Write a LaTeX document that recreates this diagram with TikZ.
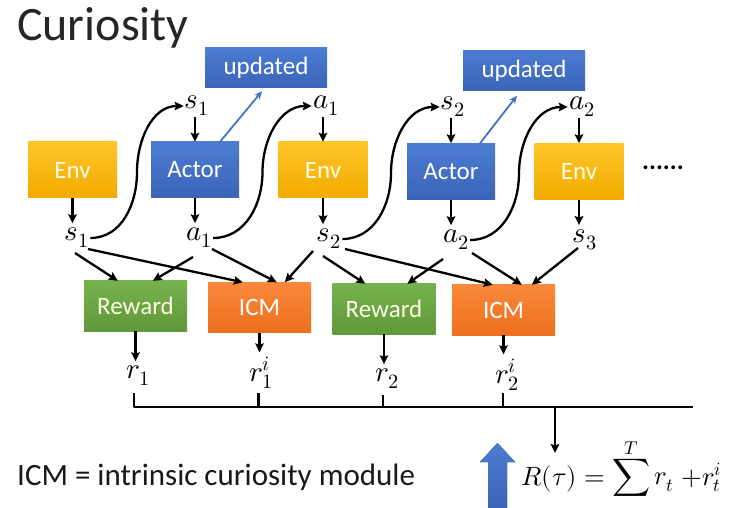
\documentclass[tikz,border=0pt]{standalone}
\usepackage{fontspec}
\usepackage{unicode-math}
\setmainfont{Carlito}
\setmathfont{Latin Modern Math}
\usetikzlibrary{arrows.meta,calc}
\definecolor{envtop}{RGB}{255,198,40}
\definecolor{envbot}{RGB}{242,170,0}
\definecolor{acttop}{RGB}{76,124,210}
\definecolor{actbot}{RGB}{58,100,184}
\definecolor{rewtop}{RGB}{118,178,76}
\definecolor{rewbot}{RGB}{96,152,58}
\definecolor{icmtop}{RGB}{250,136,58}
\definecolor{icmbot}{RGB}{236,112,30}
\definecolor{updblue}{RGB}{68,114,196}
\begin{document}
\begin{tikzpicture}[x=1pt,y=-1pt,
  basebox/.style={inner sep=0pt,text=white,font=\fontsize{25}{30}\selectfont},
  envbox/.style={basebox,minimum width=89pt,minimum height=56pt,top color=envtop,bottom color=envbot,text=white!90!yellow},
  actbox/.style={basebox,minimum width=88pt,minimum height=56pt,top color=acttop,bottom color=actbot},
  updbox/.style={basebox,minimum width=122pt,minimum height=40pt,top color=acttop,bottom color=actbot},
  rewbox/.style={basebox,minimum width=103pt,minimum height=50pt,top color=rewtop,bottom color=rewbot,text=white!90!yellow},
  icmbox/.style={basebox,minimum width=103pt,minimum height=50pt,top color=icmtop,bottom color=icmbot},
  lbl/.style={inner sep=1pt,font=\fontsize{29}{34}\selectfont},
  arr/.style={line width=2.3pt,-{Stealth[length=9pt,width=8.5pt,inset=1.5pt]}},
  tolbl/.style={arr,shorten >=3.5pt},
  barline/.style={line width=2.3pt},
  updarr/.style={updblue,line width=1.8pt,-{Stealth[length=8pt,width=7pt]}}
]
\useasboundingbox[fill=white] (0,0) rectangle (740,508);

% title and caption
\node[anchor=base west,inner sep=0pt,text=black!85,font=\fontsize{48}{56}\selectfont] (title) at (17,41) {Curiosity};
\node[anchor=base west,inner sep=0pt,text=black!90,font=\fontsize{31}{36}\selectfont] (caption) at (17,485) {ICM = intrinsic curiosity module};

% boxes
\node[envbox] (env1) at (72.5,170) {Env};
\node[actbox] (act1) at (195,170) {Actor};
\node[envbox] (env2) at (323,170) {Env};
\node[actbox] (act2) at (451,171.5) {Actor};
\node[envbox] (env3) at (579,171.5) {Env};
\node[updbox] (upd1) at (266,68) {updated};
\node[updbox] (upd2) at (524,70.5) {updated};
\node[rewbox] (rew1) at (135.5,306) {Reward};
\node[icmbox] (icm1) at (259.5,307.5) {ICM};
\node[rewbox] (rew2) at (384,309) {Reward};
\node[icmbox] (icm2) at (503.5,310) {ICM};
\node[inner sep=0pt,font=\bfseries\fontsize{26}{30}\selectfont] (dots) at (663,168) {......};

% labels, top row
\node[lbl] (s1t) at (197,106) {$s_1$};
\node[lbl] (a1t) at (326,106) {$a_1$};
\node[lbl] (s2t) at (453,107) {$s_2$};
\node[lbl] (a2t) at (582,107) {$a_2$};
% labels, bottom row
\node[lbl] (s1b) at (77,238) {$s_1$};
\node[lbl] (a1b) at (199,238) {$a_1$};
\node[lbl] (s2b) at (329,239) {$s_2$};
\node[lbl] (a2b) at (456,240) {$a_2$};
\node[lbl] (s3b) at (585,240) {$s_3$};
% rewards
\node[lbl] (r1) at (138,376) {$r_1$};
\node[lbl] (r1i) at (261,373) {$r_1^i$};
\node[lbl] (r2) at (387,379) {$r_2$};
\node[lbl] (r2i) at (507,375) {$r_2^i$};

% vertical arrows
\draw[arr] (act1.north |- s1t.south) -- (act1.north);
\draw[arr] (env2.north |- a1t.south) -- (env2.north);
\draw[arr] (act2.north |- s2t.south) -- (act2.north);
\draw[arr] (env3.north |- a2t.south) -- (env3.north);
\draw[tolbl] (env1.south) -- (env1.south |- s1b.north);
\draw[tolbl] (act1.south) -- (act1.south |- a1b.north);
\draw[tolbl] (env2.south) -- (env2.south |- s2b.north);
\draw[tolbl] (act2.south) -- (act2.south |- a2b.north);
\draw[tolbl] (env3.south) -- (env3.south |- s3b.north);
\draw[tolbl] (rew1.south) -- (rew1.south |- r1.north);
\draw[tolbl] (icm1.south) -- (icm1.south |- r1i.north);
\draw[tolbl] (rew2.south) -- (rew2.south |- r2.north);
\draw[tolbl] (icm2.south) -- (icm2.south |- r2i.north);

% S-curves
\draw[arr] (s1b.east) to[out=0,in=-90] ($(s1b.east)!.5!(s1t.west)$) to[out=90,in=180] (s1t.west);
\draw[arr] (a1b.east) to[out=0,in=-90] ($(a1b.east)!.5!(a1t.west)$) to[out=90,in=180] (a1t.west);
\draw[arr] (s2b.east) to[out=0,in=-90] ($(s2b.east)!.5!(s2t.west)$) to[out=90,in=180] (s2t.west);
\draw[arr] (a2b.east) to[out=0,in=-90] ($(a2b.east)!.5!(a2t.west)$) to[out=90,in=180] (a2t.west);

% update arrows
\draw[updarr] ($(act1.north)+(25,0)$) -- ($(upd1.south)+(-4,3)$);
\draw[updarr] ($(act2.north)+(29,0)$) -- ($(upd2.south)+(-7,5)$);

% diagonal arrows into Reward / ICM
\draw[arr] ($(s1b)+(-2,15)$) -- ($(rew1.north west)+(34,0)$);
\draw[arr] ($(s1b)+(11,11)$) -- ($(icm1.north west)+(35,0)$);
\draw[arr] ($(a1b)+(-6,19)$) -- ($(rew1.north west)+(69,0)$);
\draw[arr] ($(a1b)+(13,11)$) -- ($(icm1.north west)+(69,0)$);
\draw[arr] ($(s2b)+(-16,12)$) -- ($(icm1.north west)+(77,0)$);
\draw[arr] ($(s2b)+(-6,17)$) -- ($(rew2.north west)+(33,0)$);
\draw[arr] ($(s2b)+(16,10)$) -- ($(icm2.north west)+(41,0)$);
\draw[arr] ($(a2b)+(-13,19)$) -- ($(rew2.north west)+(75,0)$);
\draw[arr] ($(a2b)+(16,13)$) -- ($(icm2.north west)+(70,0)$);
\draw[arr] ($(s3b)+(-7,8)$) -- ($(icm2.north west)+(80,0)$);

% summing bus
\coordinate (t1) at (134,393);
\coordinate (b1) at (134,407);
\coordinate (t2) at (258.5,393);
\coordinate (b2) at (258.5,407);
\coordinate (t3) at (383,395);
\coordinate (b3) at (383,407);
\coordinate (t4) at (503,393);
\coordinate (b4) at (503,407);
\coordinate (busR) at (693,407);
\coordinate (busJ) at (555,407);
\coordinate (Rin) at (555,453);
\draw[barline,line join=round] (t1) -- (b1) -- (busR);
\draw[barline] (t2) -- (b2);
\draw[barline] (t3) -- (b3);
\draw[barline] (t4) -- (b4);
\draw[arr] (busJ) -- (Rin);

% formula
\node[anchor=base west,inner sep=0pt,font=\fontsize{26.5}{30}\selectfont] (R) at (521,485) {$\displaystyle R(\tau)=\sum^{T} r_t\;{+}r_t^i$};

% big blue arrow
\fill[top color=acttop,bottom color=actbot] (488,508) -- (488,462) -- (480,462) -- (497.5,443) -- (515,462) -- (507,462) -- (507,508) -- cycle;
\end{tikzpicture}
\end{document}
